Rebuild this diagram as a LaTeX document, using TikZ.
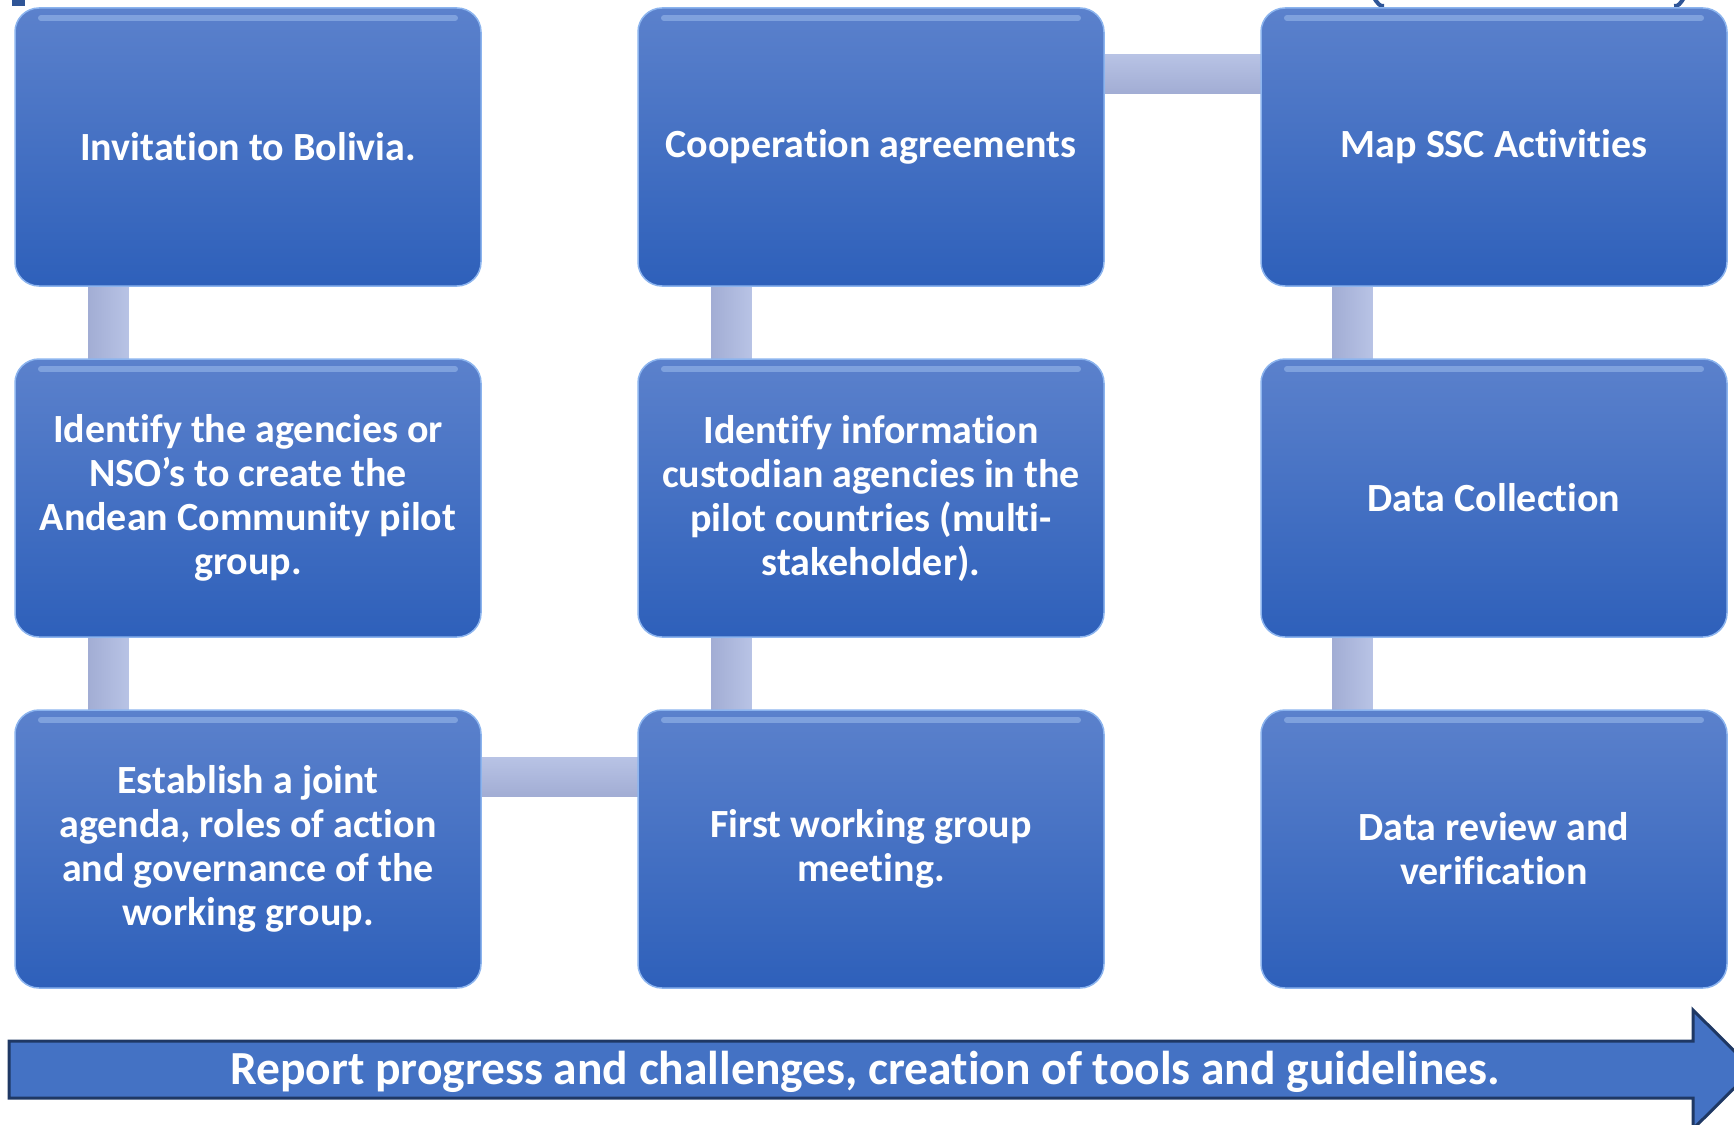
\documentclass[tikz,border=0pt]{standalone}
\usepackage{fontspec}
\setmainfont[Ligatures=NoCommon]{Carlito}
\usetikzlibrary{calc,backgrounds}
\definecolor{boxtop}{HTML}{5B81CC}
\definecolor{boxbot}{HTML}{2E60BA}
\definecolor{boxedge}{HTML}{8CB4EE}
\definecolor{boxhl}{HTML}{8FB0E6}
\definecolor{barA}{HTML}{A2ADD4}
\definecolor{barB}{HTML}{B8C3E5}
\definecolor{bannerfill}{HTML}{4472C4}
\definecolor{banneredge}{HTML}{1F3864}
\definecolor{scrap}{HTML}{2F5597}
\tikzset{
  task/.style={rounded corners=24pt, top color=boxtop, bottom color=boxbot,
    draw=boxedge, line width=1.5pt, minimum width=466pt, minimum height=278pt,
    inner sep=0pt, text=white, align=center,
    font=\fontsize{40}{44}\selectfont\bfseries,
    path picture={\draw[boxhl, line width=6pt, line cap=round, opacity=.7]
      ([xshift=26pt,yshift=-10pt]path picture bounding box.north west) --
      ([xshift=-26pt,yshift=-10pt]path picture bounding box.north east);}},
  vbar/.style={left color=barA, right color=barB},
  hbar/.style={top color=barB, bottom color=barA},
  banner/.style={fill=bannerfill, draw=banneredge, line width=3pt},
  bannertext/.style={text=white, font=\fontsize{47.5}{52}\selectfont\bfseries}
}
\begin{document}
\begin{tikzpicture}[x=1pt, y=-1pt]
  \useasboundingbox (0,0) rectangle (1734,1124);
  % cut-off bits at the top edge
  \fill[scrap] (12,0) rectangle (25,6);
  \draw[scrap, line width=4pt] (1368,-6) to[out=70,in=200] (1384,6);
  \draw[scrap, line width=4pt] (1690,-6) to[out=110,in=-20] (1674,6);
  % boxes
  \node[task] (inv) at (248,147) {Invitation to Bolivia.};
  \node[task] (agen) at (248,498) {Identify the agencies or\\NSO’s to create the\\Andean Community pilot\\group.};
  \node[task] (joint) at (248,849) {Establish a joint\\agenda, roles of action\\and governance of the\\working group.};
  \node[task] (meet) at (871,849) {First working group\\meeting.};
  \node[task] (cust) at (871,498) {Identify information\\custodian agencies in the\\pilot countries (multi-\\stakeholder).};
  \node[task] (coop) at (871,147) {Cooperation agreements};
  \node[task] (ssc) at (1494,147) {Map SSC Activities};
  \node[task] (coll) at (1494,498) {Data Collection};
  \node[task] (review) at (1494,849) {Data review and\\verification};
  % bars
  \begin{scope}[on background layer]
    \shade[vbar] ($(inv.south west)+(74,-6)$) rectangle ($(agen.north west)+(114,6)$);
    \shade[vbar] ($(agen.south west)+(74,-6)$) rectangle ($(joint.north west)+(114,6)$);
    \shade[hbar] ($(joint.north east)+(-6,48)$) rectangle ($(meet.north west)+(6,87)$);
    \shade[vbar] ($(meet.north west)+(74,6)$) rectangle ($(cust.south west)+(114,-6)$);
    \shade[vbar] ($(cust.north west)+(74,6)$) rectangle ($(coop.south west)+(114,-6)$);
    \shade[hbar] ($(coop.north east)+(-6,47)$) rectangle ($(ssc.north west)+(6,86)$);
    \shade[vbar] ($(ssc.south west)+(72,-6)$) rectangle ($(coll.north west)+(112,6)$);
    \shade[vbar] ($(coll.south west)+(72,-6)$) rectangle ($(review.north west)+(112,6)$);
  \end{scope}
  % arrow
  \draw[banner] (9,1041) -- (1693,1041) -- (1693,1010) -- (1753,1069.5)
    -- (1693,1129) -- (1693,1098) -- (9,1098) -- cycle;
  \node[bannertext] (report) at (865,1072) {Report progress and challenges, creation of tools and guidelines.};
\end{tikzpicture}
\end{document}
